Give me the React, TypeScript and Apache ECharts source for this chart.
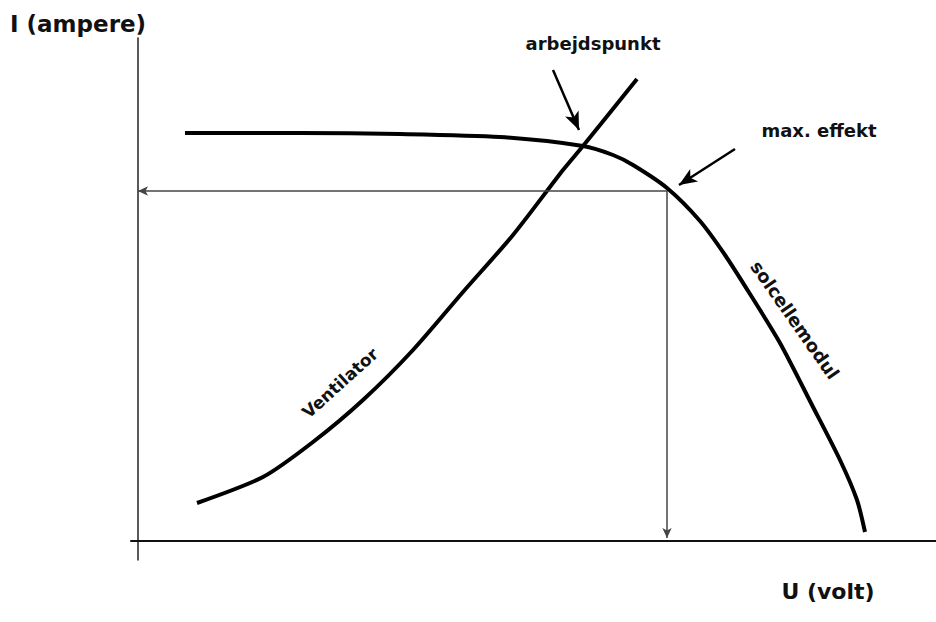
import React, { useEffect, useRef } from "react";
import * as echarts from "echarts";

// U (volt) / I (ampere) in arbitrary schematic units
const solarU = [4.7, 16.2, 26.2, 36.2, 44.5, 47.5, 49.5, 52.9, 56.2, 58.7, 61.2, 64.2, 67.4, 70.2, 71.9, 72.7];
const solarI = [40.8, 40.8, 40.7, 40.4, 39.5, 38.6, 37.6, 35.3, 32.0, 28.6, 24.7, 19.8, 13.6, 8.1, 4.1, 0.9];

const fanU = [5.9, 12.5, 17.5, 22.5, 27.5, 32.5, 37.5, 42.5, 44.5, 49.9];
const fanI = [3.8, 6.4, 9.9, 14.1, 19.1, 24.9, 30.6, 37.1, 39.5, 46.2];

// maximum power point
const mppU = 52.9;
const mppI = 35.0;

// annotation arrows [fromU, fromI, toU, toI]
const workArrow = [41.5, 47.1, 44.1, 41.1];
const maxArrow = [59.7, 39.2, 54.1, 35.6];

const FONT = "DejaVu Sans";

export default function App() {
  const ref = useRef<HTMLDivElement>(null);
  useEffect(() => {
    if (!ref.current) return;
    const chart = echarts.init(ref.current, null, { renderer: "svg" });
    const zip = (a: number[], b: number[]) => a.map((v, i) => [v, b[i]]);
    chart.setOption({
      animation: false,
      backgroundColor: "#ffffff",
      grid: { left: 131, right: 0, top: 38, bottom: 62 },
      xAxis: {
        type: "value",
        min: -0.7,
        max: 79.8,
        axisLine: { show: true, onZero: true, lineStyle: { color: "#111", width: 2 } },
        axisTick: { show: false },
        axisLabel: { show: false },
        splitLine: { show: false },
      },
      yAxis: {
        type: "value",
        min: -1.9,
        max: 50.3,
        axisLine: { show: true, onZero: true, lineStyle: { color: "#222", width: 1.5 } },
        axisTick: { show: false },
        axisLabel: { show: false },
        splitLine: { show: false },
      },
      series: [
        {
          type: "line",
          name: "solcellemodul",
          data: zip(solarU, solarI),
          smooth: 0.25,
          showSymbol: false,
          lineStyle: { color: "#000", width: 4 },
          silent: true,
          markLine: {
            silent: true,
            symbol: ["none", "arrow"],
            symbolSize: [7, 10],
            label: { show: false },
            lineStyle: { color: "#444", width: 1.5, type: "solid" },
            data: [
              [{ coord: [mppU, mppI] }, { coord: [0, mppI] }],
              [{ coord: [mppU, mppI] }, { coord: [mppU, 0.3] }],
            ],
          },
        },
        {
          type: "line",
          name: "Ventilator",
          data: zip(fanU, fanI),
          smooth: 0.25,
          showSymbol: false,
          lineStyle: { color: "#000", width: 4 },
          silent: true,
          markLine: {
            silent: true,
            symbol: ["none", "arrow"],
            symbolSize: [11, 18],
            label: { show: false },
            lineStyle: { color: "#000", width: 2.5, type: "solid" },
            data: [
              [{ coord: [workArrow[0], workArrow[1]] }, { coord: [workArrow[2], workArrow[3]] }],
              [{ coord: [maxArrow[0], maxArrow[1]] }, { coord: [maxArrow[2], maxArrow[3]] }],
            ],
          },
        },
      ],
      graphic: [
        {
          type: "text",
          left: 10,
          top: 12,
          style: { text: "I (ampere)", font: `bold 23px "${FONT}"`, fill: "#111" },
        },
        {
          type: "text",
          x: 593,
          y: 43,
          style: { text: "arbejdspunkt", font: `bold 18px "${FONT}"`, fill: "#111", align: "center", verticalAlign: "middle" },
        },
        {
          type: "text",
          x: 819,
          y: 130,
          style: { text: "max. effekt", font: `bold 18px "${FONT}"`, fill: "#111", align: "center", verticalAlign: "middle" },
        },
        {
          type: "text",
          x: 828,
          y: 591,
          style: { text: "U (volt)", font: `bold 22px "${FONT}"`, fill: "#111", align: "center", verticalAlign: "middle" },
        },
        {
          type: "text",
          x: 340,
          y: 383,
          rotation: (42 * Math.PI) / 180,
          style: { text: "Ventilator", font: `bold 17px "${FONT}"`, fill: "#111", align: "center", verticalAlign: "middle" },
        },
        {
          type: "text",
          x: 795,
          y: 320,
          rotation: (-55 * Math.PI) / 180,
          style: { text: "solcellemodul", font: `bold 18px "${FONT}"`, fill: "#111", align: "center", verticalAlign: "middle" },
        },
      ],
    });
    return () => chart.dispose();
  }, []);
  return <div ref={ref} style={{ position: "absolute", left: 0, top: 0, width: 936, height: 622 }} />;
}
